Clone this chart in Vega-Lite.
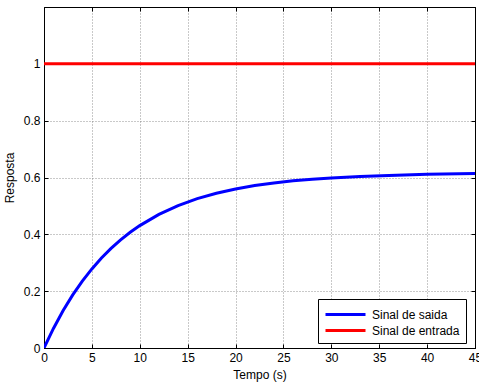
{
  "$schema": "https://vega.github.io/schema/vega-lite/v6.json",
  "width": 431,
  "height": 341,
  "autosize": {"type": "none"},
  "padding": {"left": 44, "top": 7, "right": 4, "bottom": 39},
  "background": "white",
  "config": {
    "font": "Liberation Sans",
    "view": {"stroke": "black", "strokeWidth": 1},
    "axis": {
      "domainColor": "black",
      "tickColor": "black",
      "labelColor": "black",
      "titleColor": "black",
      "labelFontSize": 12,
      "titleFontSize": 12,
      "titleFontWeight": "normal",
      "labelFont": "Liberation Sans",
      "titleFont": "Liberation Sans",
      "gridColor": "#777777",
      "gridDash": [1, 2],
      "gridWidth": 0.8,
      "tickSize": -4,
      "labelFlush": false
    }
  },
  "datasets": {
    "saida": [
      {"t": 0, "y": 0, "s": "Sinal de saida"},
      {"t": 1, "y": 0.0698, "s": "Sinal de saida"},
      {"t": 2, "y": 0.1317, "s": "Sinal de saida"},
      {"t": 3, "y": 0.187, "s": "Sinal de saida"},
      {"t": 4, "y": 0.2352, "s": "Sinal de saida"},
      {"t": 5, "y": 0.2783, "s": "Sinal de saida"},
      {"t": 6, "y": 0.3165, "s": "Sinal de saida"},
      {"t": 7, "y": 0.3504, "s": "Sinal de saida"},
      {"t": 8, "y": 0.3804, "s": "Sinal de saida"},
      {"t": 9, "y": 0.4071, "s": "Sinal de saida"},
      {"t": 10, "y": 0.4307, "s": "Sinal de saida"},
      {"t": 12, "y": 0.4701, "s": "Sinal de saida"},
      {"t": 14, "y": 0.5012, "s": "Sinal de saida"},
      {"t": 16, "y": 0.5255, "s": "Sinal de saida"},
      {"t": 18, "y": 0.5447, "s": "Sinal de saida"},
      {"t": 20, "y": 0.5598, "s": "Sinal de saida"},
      {"t": 22, "y": 0.5716, "s": "Sinal de saida"},
      {"t": 24, "y": 0.5809, "s": "Sinal de saida"},
      {"t": 26, "y": 0.5882, "s": "Sinal de saida"},
      {"t": 28, "y": 0.5939, "s": "Sinal de saida"},
      {"t": 30, "y": 0.5985, "s": "Sinal de saida"},
      {"t": 33, "y": 0.6035, "s": "Sinal de saida"},
      {"t": 36, "y": 0.607, "s": "Sinal de saida"},
      {"t": 40, "y": 0.611, "s": "Sinal de saida"},
      {"t": 45, "y": 0.614, "s": "Sinal de saida"}
    ],
    "entrada": [
      {"t": 0, "y": 1, "s": "Sinal de entrada"},
      {"t": 45, "y": 1, "s": "Sinal de entrada"}
    ]
  },
  "layer": [
    {
      "data": {"name": "saida"},
      "mark": {"type": "line", "strokeWidth": 3, "clip": true},
      "encoding": {
        "x": {"field": "t", "type": "quantitative", "scale": {"domain": [0, 45], "nice": false},
          "axis": {"orient": "bottom", "title": "Tempo (s)", "values": [0,5,10,15,20,25,30,35,40,45], "labelPadding": 8, "titlePadding": 6}},
        "y": {"field": "y", "type": "quantitative", "scale": {"domain": [0, 1.2], "nice": false},
          "axis": {"orient": "left", "title": "Resposta", "values": [0,0.2,0.4,0.6,0.8,1], "format": "~g", "labelPadding": 8, "titlePadding": 7}},
        "color": {"field": "s", "type": "nominal",
          "scale": {"domain": ["Sinal de saida", "Sinal de entrada"], "range": ["#0000ff", "#ff0000"]},
          "legend": {"title": null, "orient": "none", "legendX": 274, "legendY": 292,
            "symbolType": "M-1,0H4", "symbolStrokeWidth": 3, "symbolSize": 256, "labelOffset": 29,
            "labelFontSize": 12, "labelFont": "Liberation Sans", "labelColor": "black",
            "strokeColor": "black", "fillColor": "white", "padding": 6, "rowPadding": 0, "offset": 0}}
      }
    },
    {
      "data": {"name": "entrada"},
      "mark": {"type": "line", "strokeWidth": 3, "clip": true},
      "encoding": {
        "x": {"field": "t", "type": "quantitative",
          "axis": {"orient": "top", "title": null, "labels": false, "grid": false, "values": [0,5,10,15,20,25,30,35,40,45]}},
        "y": {"field": "y", "type": "quantitative",
          "axis": {"orient": "right", "title": null, "labels": false, "grid": false, "values": [0,0.2,0.4,0.6,0.8,1]}},
        "color": {"field": "s", "type": "nominal"}
      }
    }
  ],
  "resolve": {"axis": {"x": "independent", "y": "independent"}}
}
